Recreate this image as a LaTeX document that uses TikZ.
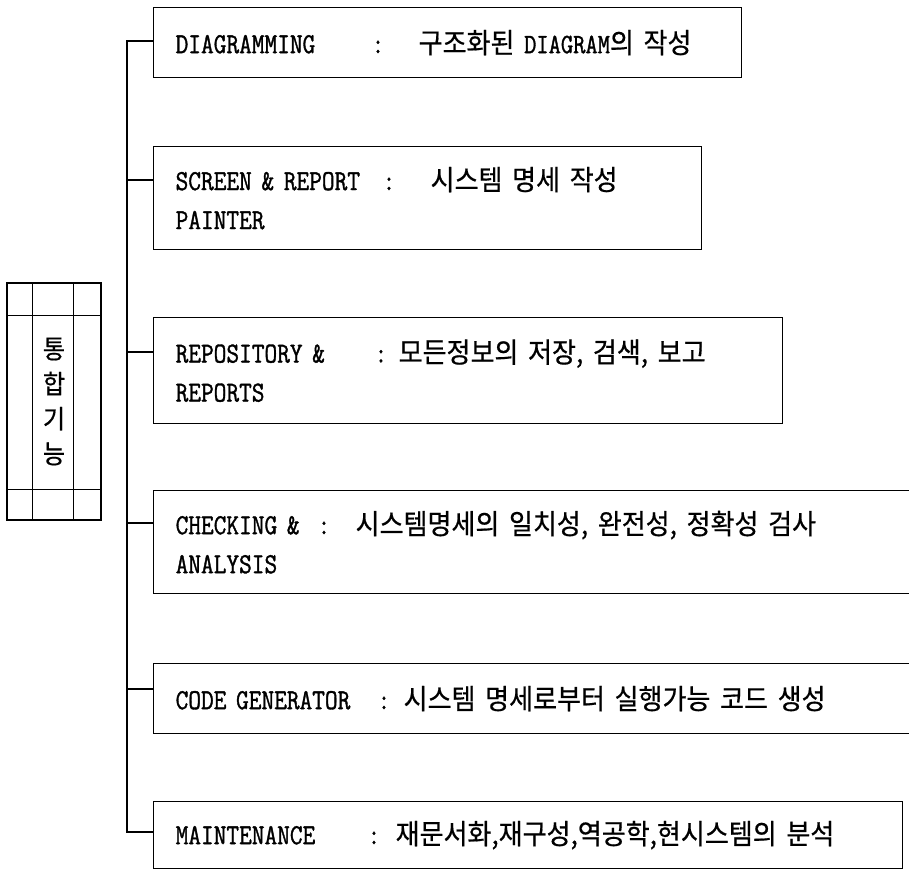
\documentclass[tikz,border=0pt]{standalone}
\usepackage{fontspec}
\setmonofont{Latin Modern Mono}[FakeStretch=0.85, FakeBold=1.2]
\newfontfamily\kr{Noto Sans CJK KR}[FakeStretch=0.93, FakeBold=0.6]
\usetikzlibrary{positioning}

% label, colon position, start of the Korean part
\newcommand{\lbl}[3]{\makebox[#2][l]{#1}\makebox[\dimexpr#3-#2\relax][l]{:}}
\newcommand{\ko}[2]{\makebox[#1][s]{\kr\fontsize{28}{38}\selectfont #2}}

\begin{document}
\begin{tikzpicture}[x=1pt, y=-1pt,
        func/.style={draw, line width=1.3pt, anchor=north west, inner xsep=22pt, inner ysep=0pt,
                     align=left, font=\ttfamily\fontsize{29}{39}\selectfont},
        link/.style={line width=1.3pt}
    ]
    \useasboundingbox (0,0) rectangle (909,872);
    \clip (0,0) rectangle (909,872);

    % left block
    \node[draw, line width=1.3pt, minimum width=94pt, minimum height=237pt, inner sep=0pt,
          align=center, font=\kr\fontsize{26}{35}\selectfont] (intg) at (54,401.5) {통\\합\\기\\능};
    \draw[link] ([xshift=26pt]intg.north west) -- ([xshift=26pt]intg.south west);
    \draw[link] ([xshift=67pt]intg.north west) -- ([xshift=67pt]intg.south west);
    \draw[link] ([yshift=-33pt]intg.north west) -- ([yshift=-33pt]intg.north east);
    \draw[link] ([yshift=31pt]intg.south west) -- ([yshift=31pt]intg.south east);

    % function boxes
    \node[func, minimum width=588pt, minimum height=70pt, text width=544pt] (diag) at (153,7)
        {\lbl{DIAGRAMMING}{196pt}{243pt}\ko{297pt}{구조화된 {\ttfamily DIAGRAM}의 작성}};
    \node[func, minimum width=548pt, minimum height=103pt, text width=504pt] (scr) at (153,146)
        {\lbl{SCREEN \& REPORT}{207pt}{255pt}\ko{207pt}{시스템 명세 작성}\\PAINTER};
    \node[func, minimum width=629pt, minimum height=106pt, text width=585pt] (repo) at (153,317)
        {\lbl{REPOSITORY \&}{199pt}{223pt}\ko{362pt}{모든정보의 저장, 검색, 보고}\\REPORTS};
    \node[func, minimum width=770pt, minimum height=103pt, text width=726pt] (chk) at (153,490)
        {\lbl{CHECKING \&}{142pt}{180pt}\ko{538pt}{시스템명세의 일치성, 완전성, 정확성 검사}\\ANALYSIS};
    \node[func, minimum width=770pt, minimum height=70pt, text width=726pt] (code) at (153,663)
        {\lbl{CODE GENERATOR}{202pt}{228pt}\ko{475pt}{시스템 명세로부터 실행가능 코드 생성}};
    \node[func, minimum width=749pt, minimum height=67pt, text width=705pt] (mnt) at (153,801)
        {\lbl{MAINTENANCE}{192pt}{220pt}\ko{478pt}{재문서화,재구성,역공학,현시스템의 분석}};

    % tree
    \draw[link] ([yshift=-34pt]diag.north west) -- ++(-26,0) |- ([yshift=-31pt]mnt.north west);
    \foreach \b/\d in {scr/34, repo/35, chk/33, code/26}
        \draw[link] ([yshift=-\d pt]\b.north west) -- ++(-26,0);
\end{tikzpicture}
\end{document}
